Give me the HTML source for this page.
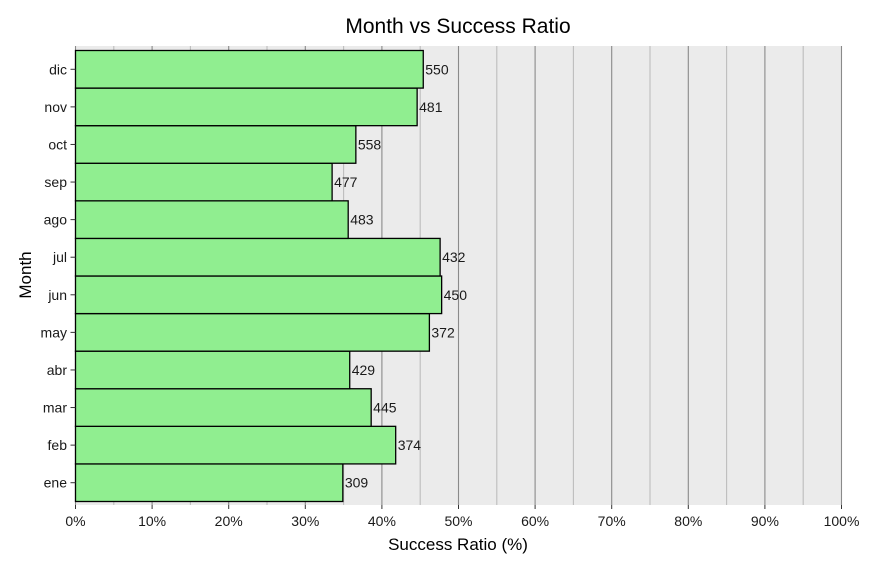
<!DOCTYPE html>
<html><head><meta charset="utf-8"><style>body{margin:0;background:#fff}svg{display:block;font-family:"Liberation Sans",Arial,sans-serif}</style></head>
<body>
<svg id="chart" width="875" height="568" viewBox="0 0 875 568">
<text x="458" y="33" text-anchor="middle" font-size="21">Month vs Success Ratio</text>
<rect x="75.5" y="46" width="766" height="459" fill="#ebebeb"/>
<g id="grid"></g><g id="bars"></g><g id="axes"></g>
<text x="458" y="550" text-anchor="middle" font-size="17">Success Ratio (%)</text>
<text transform="translate(31,275) rotate(-90)" text-anchor="middle" font-size="17">Month</text>
</svg>
<script>
const months = ["ene","feb","mar","abr","may","jun","jul","ago","sep","oct","nov","dic"];
const ratios = [34.9,41.8,38.6,35.8,46.2,47.8,47.6,35.6,33.5,36.6,44.6,45.4];
const counts = [309,374,445,429,372,450,432,483,477,558,481,550];
const xTicks = [0,10,20,30,40,50,60,70,80,90,100];
const NS="http://www.w3.org/2000/svg";
const X0=75.5,X1=841.5,BT=50.5,BB=501.5,PT=46,PB=505;
const x=v=>X0+(X1-X0)*v/100;
const band=(BB-BT)/months.length;
const yTop=i=>BB-(i+1)*band;
function mk(p,t,a){const e=document.createElementNS(NS,t);for(const k in a)e.setAttribute(k,a[k]);p.appendChild(e);return e;}
const grid=document.getElementById('grid'),bars=document.getElementById('bars'),axes=document.getElementById('axes');
for(let v=0;v<=100;v+=5){const major=v%10===0;
 const l=mk(grid,'line',{x1:x(v),x2:x(v),y1:PT,y2:PB,stroke:major?'#8a8a8a':'#bdbdbd','stroke-width':1.1});
 
 }
months.forEach((m,i)=>{
 const r=mk(bars,'rect',{x:X0,y:yTop(i),width:x(ratios[i])-X0,height:band,fill:'#90ee90',stroke:'#000','stroke-width':1.3});
 
 
 const t=mk(bars,'text',{x:x(ratios[i])+2,y:yTop(i)+band/2+5,'font-size':14,fill:'#1a1a1a'});
 t.textContent=counts[i];
 
 
 const yl=mk(axes,'text',{x:67,y:yTop(i)+band/2+5,'text-anchor':'end','font-size':14,fill:'#1a1a1a'});
 yl.textContent=m;
 
 
 const tk=mk(axes,'line',{x1:70.5,x2:75.5,y1:yTop(i)+band/2,y2:yTop(i)+band/2,stroke:'#333'});
 
 
});
xTicks.forEach(v=>{
 const tk=mk(axes,'line',{x1:x(v),x2:x(v),y1:PB,y2:PB+4,stroke:'#333'});
 
 
 const t=mk(axes,'text',{x:x(v),y:526,'text-anchor':'middle','font-size':14,fill:'#1a1a1a'});
 t.textContent=v+'%';
 
 
});
</script>
</body></html>
